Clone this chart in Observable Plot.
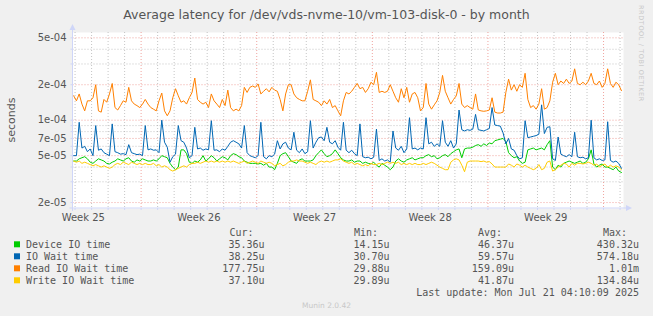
<!DOCTYPE html>
<html><head><meta charset="utf-8">
<script src="https://cdn.jsdelivr.net/npm/d3@7"></script>
<script src="https://cdn.jsdelivr.net/npm/@observablehq/plot@0.6"></script>
<style>
html,body{margin:0;padding:0;background:#F0F0F0;}
#chart{width:653px;height:316px;position:relative;}
svg{display:block;}
</style></head><body><div id="chart"></div>
<script>
// ---- data (values in microseconds, one sample every 4 hours from startTime) ----
const seriesNames = ["Device IO time", "IO Wait time", "Read IO Wait time", "Write IO Wait time"];
const seriesColors = ["#00CC00", "#0066B3", "#FF8000", "#FFCC00"];
const startTime = "2025-06-17T22:00:00Z";
const stepHours = 4;

const deviceIO = [
45,45,47,48,49,47, 44,43,45,47,46,45, 43,42.5,44,45,47,46, 45,47,48,45,44,46, 45,47,46,45,45,46,
45,47,50,49,48,43, 40,38,40,56,56,52, 44,43,45,44,46,50, 45,47,50,48,45,47, 49,48,46,50,52,51,
49,48,45,44,43,43, 43,42.5,43,41.5,43,40, 40,38,43,50,52,53, 49,45,44,43,46,47, 45,45,45,46,50,53,
56,52,49,50,52,56, 52,48,46,45,45,46, 44,45,45,43,44,43, 42.5,44,41.5,40,43,41.5, 40,38,40,45,47,45,
44,46,47,48,46,47, 48,48,50,51,49,50, 47,48,50,51,49,52, 54,56,57,48,57,58, 58,59,61,62,60,63,
61,64,63,67,68,69, 70,66,53,50,48,49, 45,43,44,56,57,58, 56,57,58,56,62,67, 40,38,41.5,40,43,44,
45,44,43,44,45,43, 44,47,56,42.5,40,41.5, 42.5,40,40,39,38,40, 37,36];

const ioWait = [
50,50,96,58,60,54, 57,50,90,55.6,57,53, 51.5,50,93,54,53,51.5, 52,51,62,53,52,51, 51.5,50,90,56,57,55.6,
56,53,100,65,59,44, 49,51.5,90,67,65,58, 48,50,87,57,58,55.6, 57,56,99,55.6,56,54, 57,55.6,60,65,67,65,
63,58,90,53,50,49, 48,50,96,49,47,50, 49,51.5,67,57,63,65, 58,56,79,55.6,53,57, 52,54,99,58,65,71,
72,67,87,65,63,67, 59,55.6,96,55.6,53,55.6, 52,50,93,49,48,48.5, 47,48.5,84,45.5,47,45, 46,44,81,58,55.6,60,
53,57,105,57,58,56, 58,57,105,63,65,60, 63,60,99,65,60,67, 58,63,122,83,81,83, 82,84,112,83,82,81,
83,85,128,91,90,89, 78,63,70,57,55.6,50, 47,48,99,71,72,73, 74,76,135,77,87,88, 47,45.5,72,51.5,50,49,
51,49,79,49,48,48.5, 47,48,100,48,46,47, 45.5,46,97,45.5,44,45, 43,39];

const readIOWait = [
161,146,167,137,120,146, 146,155,200,120,117,150, 142,167,205,128,122,133, 146,142,190,146,137,133, 128,137,150,137,128,124,
120,146,170,120,109,120, 155,185,161,142,146,137, 155,172,228,150,142,137, 142,128,167,146,137,128, 150,133,180,128,120,124,
120,133,190,172,190,195, 190,203,167,176,185,174, 190,180,176,150,120,167, 200,200,167,155,150,146, 146,176,220,150,146,142,
133,146,137,150,128,133, 120,109,146,172,167,176, 190,205,185,190,172,185, 210,200,255,172,176,172, 176,200,176,155,142,185,
155,190,142,167,172,155, 120,128,205,137,124,135, 146,172,240,176,155,137, 150,161,205,137,128,133, 128,124,167,122,120,119,
120,122,155,117,115,115, 117,172,223,180,200,176, 200,190,250,150,128,133, 124,137,185,124,128,146, 210,250,200,215,205,223,
205,215,273,205,200,210, 200,215,250,205,200,215, 190,205,273,205,190,210, 200,178];

const writeIOWait = [
45,44,45,43,44,43, 42,41,42,41,40,41, 40,39,40,42,43,42, 44,43,42,44,43,42, 43,42,43,42,42,43,
41,42,40,41,40,38, 37,38,39,40,41,40, 42,43,43,44,43,44, 45,44,45,44,45,44, 45,44,45,44,45,44,
43,44,45,43,44,45, 44,43,45,44,43,44, 43,41,42,43,41,42, 44,45,45,46,45,45, 44,43,44,43,42,44,
45,44,45,44,45,46, 46,47,45,44,43,44, 42,43,42,41,42,41, 43,42,42,43,42,43, 44,43,44,43,44,42,
43,42,43,42,43,42, 42,43,42,43,44,43, 41.5,40,39,38,38,44, 46,47,46,41.5,36.5,44, 45,45,45,45,44.5,45,
44,44.5,42.5,40,40,40, 40,40,42.5,41.5,40,42.5, 41.5,40,41.5,40,39,38, 39,42,38,39,44,45, 37,38,40,41.5,43,42.5,
40,43,41.5,43,43,42.5, 43,44,43,41.5,42.5,40, 41.5,42.5,40,41.5,40,41, 40,38];

// axis / legend texts
const yTickValues = [2e-5, 5e-5, 7e-5, 1e-4, 2e-4, 5e-4];
const yTickLabels = ["2e-05", "5e-05", "7e-05", "1e-04", "2e-04", "5e-04"];
const yMinorValues = [3e-5, 4e-5, 6e-5, 8e-5, 9e-5, 3e-4, 4e-4];
const weekLabels = ["Week 25", "Week 26", "Week 27", "Week 28", "Week 29"];
const weekLabelTimes = ["2025-06-18T12:00:00Z", "2025-06-25T12:00:00Z", "2025-07-02T12:00:00Z", "2025-07-09T12:00:00Z", "2025-07-16T12:00:00Z"];
const curValues = ["35.36u", "38.25u", "177.75u", "37.10u"];
const minValues = ["14.15u", "30.70u", "29.88u", "29.89u"];
const avgValues = ["46.37u", "59.57u", "159.09u", "41.87u"];
const maxValues = ["430.32u", "574.18u", "1.01m", "134.84u"];
const titleText = "Average latency for /dev/vds-nvme-10/vm-103-disk-0 - by month";
const lastUpdate = "Last update: Mon Jul 21 04:10:09 2025";

// ---- build table ----
const t0 = new Date(startTime).getTime();
const allSeries = [deviceIO, ioWait, readIOWait, writeIOWait];
const table = [];
allSeries.forEach((arr, k) => arr.forEach((v, i) => table.push({
  t: new Date(t0 + i * stepHours * 3600e3), v: v * 1e-6, s: seriesNames[k]
})));

const xDomain = [new Date("2025-06-17T21:00:00Z"), new Date("2025-07-21T05:00:00Z")];
const yDomain = [1.78e-5, 5.55e-4];
const days = d3.utcDay.range(d3.utcDay.ceil(xDomain[0]), xDomain[1]);
const weeks = days.filter(d => d.getUTCDay() === 0);
const minorDays = days.filter(d => d.getUTCDay() !== 0);

const W = 653, H = 316, mL = 72.5, mR = 30, mT = 32, mB = 108;
const font = "DejaVu Sans, sans-serif";
const axisColor = "#CFD6F8";
const minorGrid = "rgba(150,150,150,0.55)";
const majorGrid = "rgba(225,90,80,0.55)";
const yLabelMap = new Map(yTickValues.map((v, i) => [v, yTickLabels[i]]));

const chart = Plot.plot({
  width: W, height: H,
  marginLeft: mL, marginRight: mR, marginTop: mT, marginBottom: mB,
  style: {background: "transparent", fontFamily: font, overflow: "visible"},
  x: {type: "utc", domain: xDomain, axis: null, label: null},
  y: {type: "log", domain: yDomain, axis: null, label: null},
  color: {domain: seriesNames, range: seriesColors},
  marks: [
    Plot.frame({fill: "white", stroke: null}),
    Plot.ruleY(yMinorValues, {stroke: minorGrid, strokeDasharray: "1,2"}),
    Plot.ruleX(minorDays, {stroke: minorGrid, strokeDasharray: "1,2"}),
    Plot.ruleY(yTickValues, {stroke: majorGrid, strokeDasharray: "1,2"}),
    Plot.ruleX(weeks, {stroke: majorGrid, strokeDasharray: "1,2"}),
    Plot.line(table, {x: "t", y: "v", z: "s", stroke: "s", strokeWidth: 1}),
    Plot.axisY({ticks: yTickValues.concat(yMinorValues), tickSize: 2, tickFormat: () => "", stroke: axisColor, label: null}),
    Plot.axisX({ticks: days, tickSize: 2, tickFormat: () => "", stroke: axisColor, label: null}),
    Plot.text(yTickValues, {y: d => d, text: d => yLabelMap.get(d), frameAnchor: "left", dx: -6.5, textAnchor: "end",
      fill: "#555", fontSize: 10, fontFamily: font}),
    Plot.text(weekLabelTimes, {x: d => new Date(d), text: (d, i) => weekLabels[i], frameAnchor: "bottom", dy: 9.5,
      lineAnchor: "middle", fill: "#555", fontSize: 10, fontFamily: font})
  ]
});
document.getElementById("chart").appendChild(chart);

// ---- decorations: axes arrows, title, legend ----
const svg = d3.select(chart);
const g = svg.append("g").attr("text-anchor", "start");
const bottom = H - mB, right = W - mR;
g.append("line").attr("x1", mL).attr("x2", mL).attr("y1", mT - 3).attr("y2", bottom + 3).attr("stroke", axisColor);
g.append("line").attr("x1", mL - 3).attr("x2", right + 3).attr("y1", bottom).attr("y2", bottom).attr("stroke", axisColor);
g.append("path").attr("d", `M${mL - 3},${mT - 2}L${mL + 3},${mT - 2}L${mL},${mT - 8}Z`).attr("fill", axisColor);
g.append("path").attr("d", `M${right + 3},${bottom - 3}L${right + 3},${bottom + 3}L${right + 9},${bottom}Z`).attr("fill", axisColor);

g.append("text").attr("x", 326.5).attr("y", 14).attr("text-anchor", "middle").attr("dominant-baseline", "central")
  .attr("font-family", font).attr("font-size", 12.5).attr("fill", "#555").text(titleText);
g.append("text").attr("transform", "translate(11,120) rotate(-90)").attr("text-anchor", "middle").attr("dominant-baseline", "central")
  .attr("font-family", font).attr("font-size", 11).attr("fill", "#555").text("seconds");
g.append("text").attr("transform", "translate(641,5) rotate(90)").attr("text-anchor", "start").attr("dominant-baseline", "central")
  .attr("font-family", font).attr("font-size", 6.5).attr("letter-spacing", 0.6).attr("fill", "#c8c8c8").text("RRDTOOL / TOBI OETIKER");

const mono = "DejaVu Sans Mono, monospace";
const colRight = [264.5, 389.5, 514, 639];
const colLeft = [229.5, 354, 478, 603];
["Cur:", "Min:", "Avg:", "Max:"].forEach((h, j) => {
  g.append("text").attr("x", colLeft[j]).attr("y", 232.7).attr("text-anchor", "start").attr("dominant-baseline", "central")
    .attr("font-family", mono).attr("font-size", 10).attr("fill", "#555").text(h);
});
const cols = [curValues, minValues, avgValues, maxValues];
seriesNames.forEach((name, k) => {
  const y = 244.3 + 12 * k;
  g.append("rect").attr("x", 14).attr("y", y - 3).attr("width", 6).attr("height", 6).attr("fill", seriesColors[k]);
  g.append("text").attr("x", 26).attr("y", y).attr("text-anchor", "start").attr("dominant-baseline", "central")
    .attr("font-family", mono).attr("font-size", 10).attr("fill", "#555").text(name);
  cols.forEach((c, j) => {
    g.append("text").attr("x", colRight[j]).attr("y", y).attr("text-anchor", "end").attr("dominant-baseline", "central")
      .attr("font-family", mono).attr("font-size", 10).attr("fill", "#555").text(c[k]);
  });
});
g.append("text").attr("x", 639).attr("y", 292.3).attr("text-anchor", "end").attr("dominant-baseline", "central")
  .attr("font-family", mono).attr("font-size", 10).attr("fill", "#555").text(lastUpdate);
g.append("text").attr("x", 326.5).attr("y", 305.5).attr("text-anchor", "middle").attr("dominant-baseline", "central")
  .attr("font-family", font).attr("font-size", 7.5).attr("fill", "#c8c8c8").text("Munin 2.0.42");
</script></body></html>
